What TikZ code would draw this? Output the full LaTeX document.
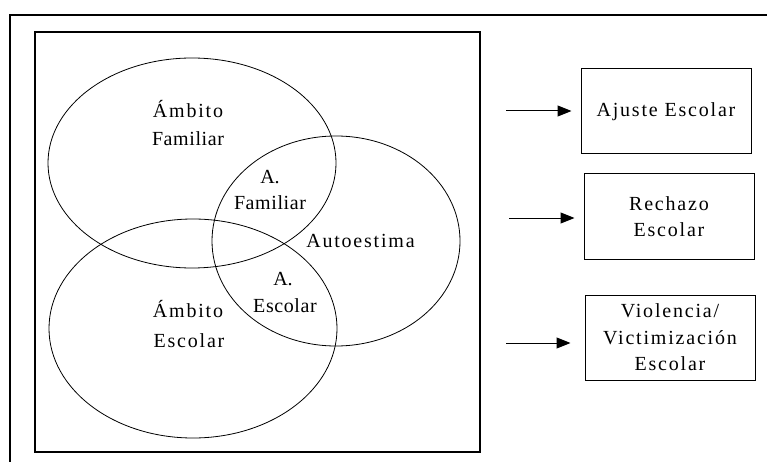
\documentclass[tikz,border=0pt]{standalone}
\usepackage{fontspec}
\setmainfont{Liberation Serif}
\newfontfamily\sA[LetterSpace=9]{Liberation Serif}
\newfontfamily\sB[LetterSpace=3]{Liberation Serif}
\usetikzlibrary{shapes.geometric,arrows.meta}
\begin{document}
\begin{tikzpicture}[x=1pt,y=-1pt,
  venn/.style={draw, ellipse, line width=0.8pt, inner sep=0pt, outer sep=0pt},
  lbl/.style={anchor=base, inner sep=0pt, font=\fontsize{20}{24}\selectfont},
  outbox/.style={draw, line width=1pt, minimum width=170pt, minimum height=85pt, inner sep=0pt, align=center, font=\fontsize{20}{26.5}\selectfont\sA},
  arr/.style={-{Triangle[length=14pt,width=11pt]}, line width=1pt}]
\useasboundingbox (0,0) rectangle (767,462);
\draw[line width=2pt] (10,462) -- (10,15) -- (767,15);
\node[draw, line width=2pt, minimum width=445pt, minimum height=420pt, inner sep=0pt] (frame) at (257.5,241.7) {};
% ellipses
\node[venn, minimum width=288pt, minimum height=210pt] (fam) at (192,163) {};
\node[venn, minimum width=288pt, minimum height=219pt] (esc) at (193,328.5) {};
\node[venn, minimum width=248pt, minimum height=210pt] (aut) at (336,241) {};
% labels
\node[lbl, font=\fontsize{20}{24}\selectfont\sA] (t1) at (188,118) {Ámbito};
\node[lbl, font=\fontsize{20}{24}\selectfont\sB] (t2) at (188,146) {Familiar};
\node[lbl] (t3) at (270,184) {A.};
\node[lbl, font=\fontsize{20}{24}\selectfont\sB] (t4) at (270,210) {Familiar};
\node[lbl, font=\fontsize{20}{24}\selectfont\sA] (t5) at (360.5,247) {Autoestima};
\node[lbl] (t6) at (283,285) {A.};
\node[lbl, font=\fontsize{20}{24}\selectfont\sB] (t7) at (285,312) {Escolar};
\node[lbl, font=\fontsize{20}{24}\selectfont\sA] (t8) at (188,317) {Ámbito};
\node[lbl, font=\fontsize{20}{24}\selectfont\sA] (t9) at (189,347) {Escolar};
% outcome boxes
\node[outbox] (aj) at (666,111.5) {Ajuste Escolar};
\node[outbox] (re) at (669,216.5) {Rechazo\\Escolar};
\node[outbox] (vi) at (670,337.5) {Violencia/\\Victimización\\Escolar};
% arrows
\coordinate (a1) at (506,111);
\coordinate (a2) at (509,218);
\coordinate (a3) at (506,343);
\draw[arr, shorten >=9pt] (a1) -- (a1 -| aj.west);
\draw[arr, shorten >=9pt] (a2) -- (a2 -| re.west);
\draw[arr, shorten >=14pt] (a3) -- (a3 -| vi.west);
\end{tikzpicture}
\end{document}
